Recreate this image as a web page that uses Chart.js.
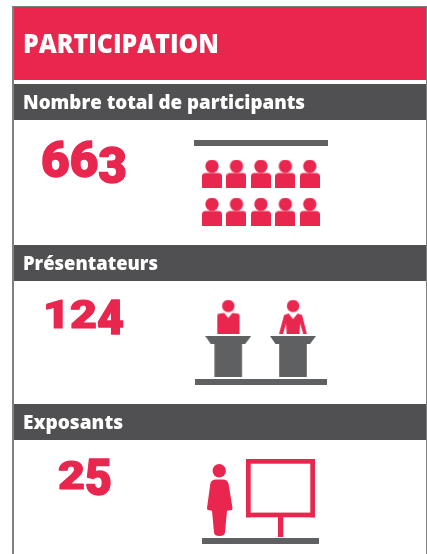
<!DOCTYPE html>
<html lang="fr"><head><meta charset="utf-8"><title>Participation</title>
<style>html,body{margin:0;padding:0;background:#fff}canvas{display:block}</style>
<script src="https://cdn.jsdelivr.net/npm/chart.js@4"></script></head>
<body><canvas id="c" width="427" height="554"></canvas>
<script>
// ---- data ----
const chartTitle = 'PARTICIPATION';
const categories = ['Nombre total de participants', 'Présentateurs', 'Exposants'];
const values = [663, 124, 25];
const seatColumns = [0, 1, 2, 3, 4];
const seatRows = [0, 1];
const presenterSlots = [0, 1];
const exhibitorSlots = [0];

// ---- styles and layout (canvas-sized hidden scales) ----
const RED = '#E9264E', DARK = '#505052', GREY = '#5F6062', FRAME = '#7F8080';
const FONT = '"Open Sans"', NUMFONT = 'Roboto';
const bands = [[84, 36], [245, 36], [404, 36]];
const valueBox = [{x: 41, w: 86, base: 176.5}, {x: 43, w: 81, base: 327.5}, {x: 58, w: 54, base: 488.5}];
// old-style figure shapes: [height, drop below baseline]
const figure = {'1': [28, 0], '2': [28, 0], '3': [35, 6], '4': [34, 6], '5': [35, 6], '6': [36, 0]};
const rules = [[194, 140, 134, 6], [195, 379, 132, 6], [202, 538, 117, 6]];

function icon(w, h, draw) {
  const c = document.createElement('canvas');
  c.width = w; c.height = h;
  const g = c.getContext('2d');
  draw(g);
  return c;
}
function round(g, x, y, w, h, r) { g.beginPath(); g.roundRect(x, y, w, h, r); g.fill(); }
function disc(g, x, y, r) { g.beginPath(); g.arc(x, y, r, 0, 7); g.fill(); }
function poly(g, pts) { g.beginPath(); pts.forEach((p, i) => i ? g.lineTo(p[0], p[1]) : g.moveTo(p[0], p[1])); g.closePath(); g.fill(); }

const seatIcon = icon(20, 28, g => {
  g.fillStyle = RED;
  disc(g, 10, 6.7, 6.7);
  round(g, 0, 13.6, 20, 14.4, [3.5, 3.5, 0, 0]);
});
const manIcon = icon(24, 34, g => {
  g.fillStyle = RED;
  disc(g, 12, 6.5, 6.2);
  g.beginPath();
  g.moveTo(1, 16); g.quadraticCurveTo(1, 14, 3.5, 14);
  g.lineTo(8, 13.6); g.lineTo(12, 18.5); g.lineTo(16, 13.6);
  g.lineTo(20.5, 14); g.quadraticCurveTo(23.3, 14, 23.3, 16);
  g.lineTo(23.3, 34); g.lineTo(1, 34); g.closePath(); g.fill();
});
const womanIcon = icon(30, 34, g => {
  g.fillStyle = RED;
  disc(g, 15, 6.5, 6.2);
  g.beginPath();
  g.moveTo(6, 15.5); g.lineTo(10.5, 14); g.lineTo(15, 19.5); g.lineTo(19.5, 14); g.lineTo(24, 15.5);
  g.lineTo(28.7, 34); g.lineTo(25, 34); g.lineTo(22, 24); g.lineTo(21.5, 34); g.lineTo(8.5, 34);
  g.lineTo(8, 24); g.lineTo(5, 34); g.lineTo(1, 34); g.closePath(); g.fill();
});
const lecternIcon = icon(46, 41, g => {
  g.fillStyle = GREY;
  poly(g, [[0, 0], [46, 0], [40, 8], [36.8, 8], [36.8, 41], [9.2, 41], [9.2, 8], [5.5, 8]]);
});
const personIcon = icon(26, 72, g => {
  g.fillStyle = RED;
  disc(g, 12.2, 6.7, 6.7);
  g.beginPath();
  g.moveTo(3.3, 20); g.quadraticCurveTo(4, 15.4, 9, 15.4); g.lineTo(16, 15.4);
  g.quadraticCurveTo(20.6, 15.6, 21.6, 20); g.lineTo(25.5, 44); g.lineTo(25, 46);
  g.lineTo(20, 46.8); g.lineTo(18, 68.5); g.quadraticCurveTo(17.5, 72, 12.5, 72);
  g.quadraticCurveTo(7.5, 72, 7, 68.5); g.lineTo(5, 46.8); g.lineTo(0.5, 46);
  g.lineTo(0, 44); g.closePath(); g.fill();
});
const boardIcon = icon(69, 78, g => {
  g.fillStyle = RED;
  g.fillRect(0, 0, 69, 4.7); g.fillRect(0, 53.6, 69, 4.7);
  g.fillRect(0, 0, 4.7, 58.3); g.fillRect(64.3, 0, 4.7, 58.3);
  g.fillRect(32, 58, 5.3, 20);
});

// slot index -> scale position, so every icon goes through the chart's scales
const seatPoints = seatRows.flatMap(r => seatColumns.map(c => ({x: 212 + 24.45 * c, y: 173.5 + 38 * r})));
const presenterPoints = presenterSlots.map(s => ({x: 228.3 + 64.8 * s, y: 316.5}));
const lecternPoints = presenterSlots.map(s => ({x: 228.2 + 64.8 * s, y: 356.5}));
const personPoints = exhibitorSlots.map(() => ({x: 220, y: 500}));
const boardPoints = exhibitorSlots.map(() => ({x: 280.5, y: 498}));

function fitText(ctx, text, x, base, font, width, color) {
  ctx.save();
  ctx.font = font; ctx.fillStyle = color; ctx.textAlign = 'left'; ctx.textBaseline = 'alphabetic';
  const sx = width / ctx.measureText(text).width;
  ctx.translate(x, base); ctx.scale(sx, 1);
  ctx.fillText(text, 0, 0);
  ctx.restore();
}
// one whole-number string, re-seated digit by digit to imitate old-style figures
function oldStyle(ctx, text, box) {
  ctx.save();
  ctx.font = '900 48px ' + NUMFONT; ctx.fillStyle = RED; ctx.strokeStyle = RED; ctx.lineWidth = 1.4;
  ctx.lineJoin = 'round'; ctx.textAlign = 'left'; ctx.textBaseline = 'alphabetic';
  const sx = box.w / ctx.measureText(text).width;
  const cap = ctx.measureText('1').actualBoundingBoxAscent;
  [...text].forEach((d, i) => {
    const a = ctx.measureText(text.slice(0, i)).width, b = ctx.measureText(text.slice(0, i + 1)).width;
    ctx.save();
    ctx.beginPath(); ctx.rect(box.x + a * sx, box.base - 60, (b - a) * sx, 90); ctx.clip();
    ctx.translate(box.x, box.base + figure[d][1]);
    ctx.scale(sx, figure[d][0] / cap);
    ctx.fillText(text, 0, 0);
    ctx.strokeText(text, 0, 0);
    ctx.restore();
  });
  ctx.restore();
}

const panels = {
  id: 'panels',
  beforeDatasetsDraw(chart) {
    const ctx = chart.ctx;
    ctx.save();
    ctx.fillStyle = '#fff'; ctx.fillRect(0, 0, 427, 554);
    ctx.fillStyle = FRAME; ctx.fillRect(12, 6, 415, 548);
    ctx.fillStyle = '#fff'; ctx.fillRect(14, 7, 412, 547);
    ctx.fillStyle = RED; ctx.fillRect(14, 7, 412, 73);
    ctx.fillStyle = DARK;
    bands.forEach(b => ctx.fillRect(14, b[0], 412, b[1]));
    ctx.fillStyle = GREY;
    rules.forEach(r => ctx.fillRect(r[0], r[1], r[2], r[3]));
    ctx.restore();
  },
  afterDatasetsDraw(chart) {
    const ctx = chart.ctx;
    fitText(ctx, chartTitle, 23, 53, '800 26px ' + FONT, 196, '#fff');
    const widths = [282, 135, 100];
    categories.forEach((t, i) => fitText(ctx, t, 23, bands[i][0] + 25, '800 20px ' + FONT, widths[i], '#fff'));
    values.forEach((v, i) => oldStyle(ctx, String(v), valueBox[i]));
  }
};

new Chart(document.getElementById('c'), {
  type: 'scatter',
  plugins: [panels],
  data: {datasets: [
    {label: 'Public', data: seatPoints, pointStyle: seatIcon},
    {label: 'Pupitres', data: lecternPoints, pointStyle: lecternIcon},
    {label: categories[1], data: presenterPoints, pointStyle: [manIcon, womanIcon]},
    {label: categories[2], data: personPoints, pointStyle: personIcon},
    {label: 'Panneau', data: boardPoints, pointStyle: boardIcon}
  ]},
  options: {
    responsive: false, animation: false, events: [],
    layout: {padding: 0, autoPadding: false},
    scales: {
      x: {type: 'linear', display: false, min: 0, max: 427},
      y: {type: 'linear', display: false, min: 0, max: 554, reverse: true}
    },
    plugins: {legend: {display: false}, title: {display: false}, tooltip: {enabled: false}},
    elements: {point: {radius: 10, borderWidth: 0}},
    clip: false
  }
});
</script></body></html>
